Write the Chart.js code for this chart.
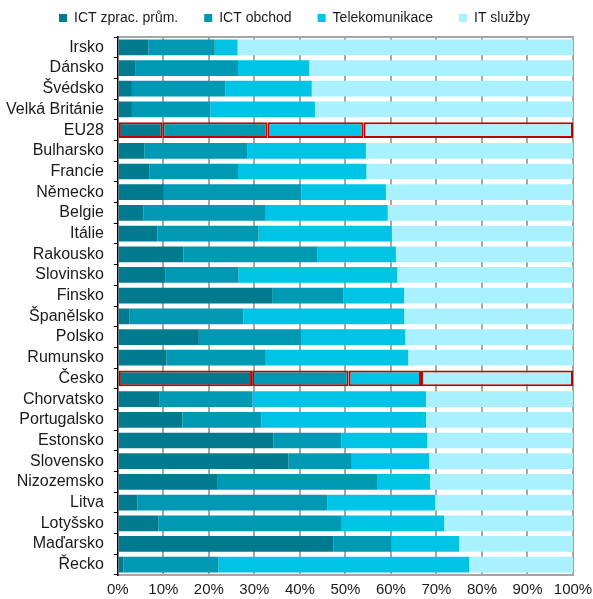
<!DOCTYPE html>
<html>
<head>
<meta charset="utf-8">
<script src="https://cdn.jsdelivr.net/npm/chart.js@4"></script>
<style>
  html, body { margin: 0; padding: 0; background: #fff; }
  #wrap { width: 593px; height: 599px; position: relative; }
</style>
</head>
<body>
<div id="wrap"><canvas id="chart"></canvas></div>
<script>
(function () {
  'use strict';

  // ============================================================
  //  Data — shares of ICT sector segments (%), top to bottom
  // ============================================================
  var countries = ['Irsko', 'Dánsko', 'Švédsko', 'Velká Británie', 'EU28', 'Bulharsko', 'Francie',
    'Německo', 'Belgie', 'Itálie', 'Rakousko', 'Slovinsko', 'Finsko', 'Španělsko', 'Polsko',
    'Rumunsko', 'Česko', 'Chorvatsko', 'Portugalsko', 'Estonsko', 'Slovensko', 'Nizozemsko',
    'Litva', 'Lotyšsko', 'Maďarsko', 'Řecko'];

  var seriesNames = ['ICT zprac. prům.', 'ICT obchod', 'Telekomunikace', 'IT služby'];

  var manufacturing = [6.7, 3.8, 3.1, 3.1, 9.8, 5.8, 6.9, 10.1, 5.6, 8.7, 14.4, 10.4, 33.9, 2.6,
    17.8, 10.7, 29.5, 9.2, 14.2, 34.2, 37.5, 21.8, 4.3, 8.9, 47.4, 1.2];
  var trade = [14.6, 22.6, 20.5, 17.2, 23.1, 22.6, 19.5, 30.2, 26.9, 22.2, 29.5, 16.1, 15.6, 25.0,
    22.6, 21.8, 21.2, 20.4, 17.3, 14.9, 13.9, 35.3, 41.7, 40.3, 12.7, 20.9];
  var telecom = [5.0, 15.6, 19.0, 23.0, 21.1, 26.1, 28.2, 18.6, 26.8, 29.3, 17.2, 34.9, 13.4, 35.3,
    22.7, 31.3, 15.9, 38.1, 36.2, 18.9, 17.0, 11.5, 23.7, 22.5, 14.9, 55.1];
  var itServices = [73.7, 58.0, 57.4, 56.7, 46.0, 45.5, 45.4, 41.1, 40.7, 39.8, 38.9, 38.6, 37.1,
    37.1, 36.9, 36.2, 33.4, 32.3, 32.3, 32.0, 31.6, 31.4, 30.3, 28.3, 25.0, 22.8];

  var xTicks = [0, 10, 20, 30, 40, 50, 60, 70, 80, 90, 100];
  var highlighted = ['EU28', 'Česko'];

  var colors = ['#007A8F', '#0099B3', '#00C4E6', '#AAF1FF'];

  Chart.defaults.font.family = '"Liberation Sans", Arial, sans-serif';
  Chart.defaults.color = '#1a1a1a';

  function isHighlighted(ctx) {
    return ctx.dataIndex !== undefined && highlighted.indexOf(countries[ctx.dataIndex]) !== -1;
  }

  function makeSet(i, data) {
    return {
      label: seriesNames[i],
      data: data,
      backgroundColor: colors[i],
      borderColor: function (ctx) { return isHighlighted(ctx) ? '#C00000' : colors[i]; },
      borderWidth: function (ctx) { return isHighlighted(ctx) ? 2 : 0; },
      borderSkipped: false,
      categoryPercentage: 1,
      barPercentage: 0.76
    };
  }

  new Chart(document.getElementById('chart').getContext('2d'), {
    type: 'bar',
    data: {
      labels: countries,
      datasets: [
        makeSet(0, manufacturing),
        makeSet(1, trade),
        makeSet(2, telecom),
        makeSet(3, itServices)
      ]
    },
    options: {
      indexAxis: 'y',
      responsive: true,
      maintainAspectRatio: false,
      animation: false,
      layout: { padding: { top: -15, left: -4, right: 0, bottom: -6 } },
      scales: {
        x: {
          stacked: true, min: 0, max: 100,
          afterBuildTicks: function (axis) { axis.ticks = xTicks.map(function (v) { return { value: v }; }); },
          afterFit: function (axis) { axis.paddingRight = 20; },
          ticks: {
            font: { size: 15 }, padding: 6, autoSkip: false, maxRotation: 0, minRotation: 0,
            callback: function (v) { return v + '%'; }
          },
          grid: {
            color: function (ctx) { return ctx.index === 0 ? 'rgba(0,0,0,0)' : '#A6A6A6'; },
            lineWidth: 2, drawTicks: false
          },
          border: { color: '#A6A6A6', width: 2 }
        },
        xTop: {
          position: 'top', min: 0, max: 100,
          ticks: { display: false },
          grid: { drawOnChartArea: false, tickLength: 2, tickColor: 'rgba(0,0,0,0)' },
          border: { color: '#A6A6A6', width: 2 }
        },
        y: {
          stacked: true,
          ticks: { font: { size: 16 }, padding: 10, autoSkip: false },
          grid: { drawOnChartArea: false, offset: true, tickLength: 4, color: '#000', lineWidth: 1 },
          border: { color: '#000', width: 1.5 }
        }
      },
      plugins: {
        legend: {
          position: 'top',
          labels: { boxWidth: 8, boxHeight: 8, padding: 26, font: { size: 14 } }
        },
        tooltip: { enabled: false }
      }
    }
  });
})();
</script>
</body>
</html>
